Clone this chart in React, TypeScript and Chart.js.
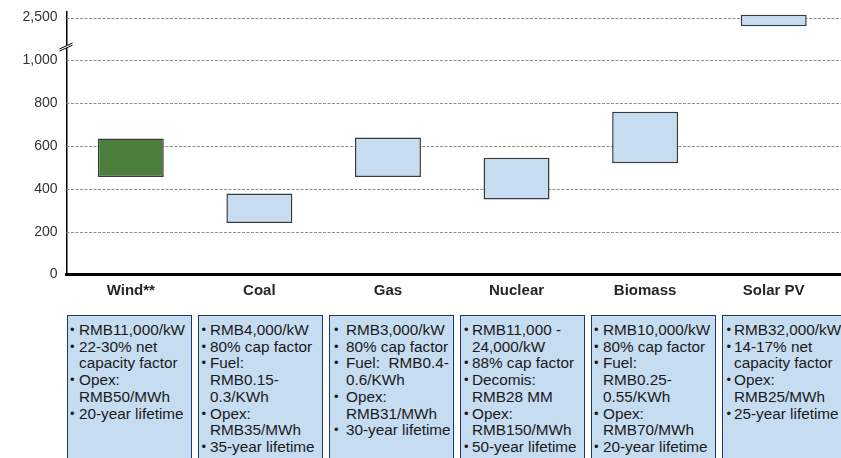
import React, { useEffect, useRef } from "react";
import { Chart, registerables } from "chart.js";

Chart.register(...registerables);

// Cost ranges per technology (RMB/MWh)
const categories = ["Wind**", "Coal", "Gas", "Nuclear", "Biomass", "Solar PV"];
const lowValues = [455, 240, 455, 350, 520, 2200];
const highValues = [635, 378, 640, 545, 760, 2600];
const barColors = ["#4c7f3b", "#c5dcf1", "#c5dcf1", "#c5dcf1", "#c5dcf1", "#c5dcf1"];

// Axis ticks; the range between 1,000 and 2,500 is cut out of the axis
const yTickValues = [0, 200, 400, 600, 800, 1000, 2500];
const BREAK_FROM = 1000;
const BREAK_TO = 2500;
const BREAK_SPAN = 200; // axis units that the cut-out range occupies

// Assumptions listed under each technology
const wind = [["RMB11,000/kW"], ["22-30% net", "capacity factor"], ["Opex:", "RMB50/MWh"], ["20-year lifetime"]];
const coal = [["RMB4,000/kW"], ["80% cap factor"], ["Fuel:", "RMB0.15-", "0.3/KWh"], ["Opex:", "RMB35/MWh"], ["35-year lifetime"]];
const gas = [["RMB3,000/kW"], ["80% cap factor"], ["Fuel:  RMB0.4-", "0.6/KWh"], ["Opex:", "RMB31/MWh"], ["30-year lifetime"]];
const nuclear = [["RMB11,000 -", "24,000/kW"], ["88% cap factor"], ["Decomis:", "RMB28 MM"], ["Opex:", "RMB150/MWh"], ["50-year lifetime"]];
const biomass = [["RMB10,000/kW"], ["80% cap factor"], ["Fuel:", "RMB0.25-", "0.55/KWh"], ["Opex:", "RMB70/MWh"], ["20-year lifetime"]];
const solar = [["RMB32,000/kW"], ["14-17% net", "capacity factor"], ["Opex:", "RMB25/MWh"], ["25-year lifetime"]];
const notes = [wind, coal, gas, nuclear, biomass, solar];

const FONT = "'Liberation Sans', Arial, Helvetica, sans-serif";
const bulletLeft = [3, 3.5, 5, 4, 3, 4.5];
const textLeft = [12, 12, 17, 12, 12, 12];

function toAxis(v: number): number {
  if (v <= BREAK_FROM) return v;
  return BREAK_FROM + ((v - BREAK_FROM) * BREAK_SPAN) / (BREAK_TO - BREAK_FROM);
}

// Dashed gridlines running to the right edge of the canvas
const dashedGrid = {
  id: "dashedGrid",
  beforeDatasetsDraw(chart: any) {
    const { ctx, chartArea, scales } = chart;
    const y = scales.y;
    ctx.save();
    ctx.strokeStyle = "#8f8f8f";
    ctx.lineWidth = 1;
    ctx.setLineDash([3, 1.5]);
    yTickValues.forEach((v) => {
      if (v === 0) return;
      const py = Math.round(y.getPixelForValue(toAxis(v))) + 0.5;
      ctx.beginPath();
      ctx.moveTo(chartArea.left, py);
      ctx.lineTo(chart.width, py);
      ctx.stroke();
    });
    ctx.restore();
  },
};

// Break symbol on the value axis, plus the baseline carried to the edge
const axisBreak = {
  id: "axisBreak",
  afterDraw(chart: any) {
    const { ctx, chartArea, scales } = chart;
    const x = chartArea.left;
    const yc = scales.y.getPixelForValue(1065);
    ctx.save();
    ctx.fillStyle = "#000000";
    ctx.fillRect(chartArea.right - 1, chartArea.bottom - 1.5, chart.width - chartArea.right + 1, 3);
    ctx.fillStyle = "#ffffff";
    ctx.beginPath();
    ctx.moveTo(x - 7, yc + 2.5);
    ctx.lineTo(x + 6, yc - 3.5);
    ctx.lineTo(x + 6, yc - 1.5);
    ctx.lineTo(x - 7, yc + 4.5);
    ctx.closePath();
    ctx.fill();
    ctx.strokeStyle = "#000000";
    ctx.lineWidth = 1;
    [0, 2.2].forEach((off) => {
      ctx.beginPath();
      ctx.moveTo(x - 7, yc + 2.5 + off);
      ctx.lineTo(x + 6, yc - 3.5 + off);
      ctx.stroke();
    });
    ctx.restore();
  },
};

function CostChart() {
  const canvasRef = useRef<HTMLCanvasElement | null>(null);

  useEffect(() => {
    const canvas = canvasRef.current;
    if (!canvas) return;
    const chart = new Chart(canvas, {
      type: "bar",
      data: {
        labels: categories,
        datasets: [
          {
            data: categories.map((_, i) => [toAxis(lowValues[i]), toAxis(highValues[i])]) as any,
            backgroundColor: barColors,
            borderColor: "#3a3a3a",
            borderWidth: 1.5,
            borderSkipped: false,
            barPercentage: 0.513,
            categoryPercentage: 1,
          },
        ],
      },
      options: {
        animation: false,
        responsive: false,
        maintainAspectRatio: false,
        layout: { padding: { top: 12, right: 3, left: 0, bottom: 0 } },
        plugins: { legend: { display: false }, tooltip: { enabled: false } },
        scales: {
          x: {
            grid: { display: false, drawTicks: false },
            border: { display: true, color: "#000000", width: 3 },
            ticks: {
              font: { family: FONT, size: 15, weight: "bold" },
              color: "#262626",
              padding: 7,
              autoSkip: false,
              maxRotation: 0,
            },
            afterFit: (s: any) => {
              s.height = 35.5;
              s.paddingLeft = 0;
              s.paddingRight = 0;
            },
          },
          y: {
            min: 0,
            max: 1226,
            grid: { display: false, drawTicks: false },
            border: { display: true, color: "#000000", width: 1.5 },
            afterBuildTicks: (s: any) => {
              s.ticks = yTickValues.map((v) => ({ value: toAxis(v) }));
            },
            ticks: {
              autoSkip: false,
              font: { family: FONT, size: 14 },
              color: "#333333",
              padding: 9,
              callback: (_v: any, i: number) => yTickValues[i].toLocaleString("en-US"),
            },
            afterFit: (s: any) => {
              s.width = 66.5;
              s.paddingTop = 0;
              s.paddingBottom = 0;
            },
          },
        },
      },
      plugins: [dashedGrid, axisBreak],
    });
    return () => chart.destroy();
  }, []);

  return <canvas ref={canvasRef} width={841} height={310} style={{ display: "block", width: 841, height: 310 }} />;
}

export default function App() {
  return (
    <div
      style={{
        position: "fixed",
        left: 0,
        top: 0,
        width: 841,
        height: 458,
        overflow: "hidden",
        background: "#ffffff",
      }}
    >
      <CostChart />
      {notes.map((items, i) => (
        <div
          key={i}
          style={{
            position: "absolute",
            left: 67 + i * 131,
            top: 315,
            width: 125,
            height: 160,
            boxSizing: "border-box",
            background: "#c6dcf1",
            border: "1px solid #1f3864",
            paddingTop: 6,
            fontFamily: FONT,
            fontSize: 15.3,
            lineHeight: "16.7px",
            color: "#1a1a1a",
          }}
        >
          {items.map((lines, j) => (
            <div key={j} style={{ position: "relative", paddingLeft: textLeft[i] - 1, whiteSpace: "pre" }}>
              <span style={{ position: "absolute", left: bulletLeft[i] - 1, top: 0, fontSize: 13 }}>•</span>
              {lines.map((ln, k) => (
                <div key={k}>{ln}</div>
              ))}
            </div>
          ))}
        </div>
      ))}
    </div>
  );
}
